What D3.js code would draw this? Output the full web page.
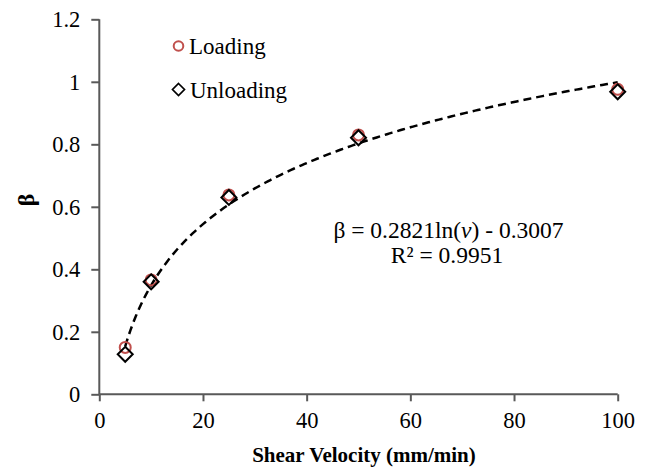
<!DOCTYPE html>
<html>
<head>
<meta charset="utf-8">
<script src="https://cdn.jsdelivr.net/npm/d3@7"></script>
<style>
  body { margin: 0; background: #fff; }
</style>
</head>
<body>
<svg id="chart" width="650" height="467"></svg>
<script>
// data
var velocity = [5, 10, 25, 50, 100]
var loading = [0.150, 0.366, 0.638, 0.830, 0.976]
var unloading = [0.128, 0.360, 0.630, 0.821, 0.968]
var xTicks = [0, 20, 40, 60, 80, 100]
var yTicks = [0, 0.2, 0.4, 0.6, 0.8, 1, 1.2]
var fitA = 0.2821, fitB = -0.3007

var serif = "'Liberation Serif', 'Times New Roman', 'DejaVu Serif', serif"

var svg = d3.select("#chart")
var margin = {top: 19.3, bottom: 72.7, left: 99.3, right: 32.3}
var width = 650 - margin.left - margin.right
var height = 467 - margin.top - margin.bottom

var xScale = d3.scaleLinear().domain([0, 100]).range([margin.left, margin.left + width])
var yScale = d3.scaleLinear().domain([0, 1.2]).range([margin.top + height, margin.top])

var axisColor = "#595959"

// y axis
var yAxis = svg.append("g")
  .attr("transform", "translate(" + margin.left + ",0)")
  .call(d3.axisLeft(yScale).tickValues(yTicks).tickSize(8).tickPadding(11)
    .tickFormat(function(d) { return String(+d.toFixed(1)) }))
yAxis.attr("font-family", serif).attr("font-size", 22.5)
yAxis.selectAll("text").attr("fill", "#000")

// x axis
var xAxis = svg.append("g")
  .attr("transform", "translate(0," + (margin.top + height) + ")")
  .call(d3.axisBottom(xScale).tickValues(xTicks).tickSize(7).tickPadding(11))
xAxis.attr("font-family", serif).attr("font-size", 22.5)
xAxis.selectAll("text").attr("fill", "#000")

svg.selectAll(".tick line").attr("stroke", axisColor).attr("stroke-width", 2)
// plain axis lines without the outer caps
yAxis.select(".domain").attr("stroke", axisColor).attr("stroke-width", 2)
  .attr("d", "M0," + yScale(1.2) + "V" + yScale(0))
xAxis.select(".domain").attr("stroke", axisColor).attr("stroke-width", 2)
  .attr("d", "M" + xScale(0) + ",0H" + xScale(100))

// trend line
var curve = d3.range(5, 100.01, 0.5).map(function(v) { return [v, fitA * Math.log(v) + fitB] })
var line = d3.line().x(function(d) { return xScale(d[0]) }).y(function(d) { return yScale(d[1]) })
svg.append("path").datum(curve)
  .attr("d", line)
  .attr("fill", "none")
  .attr("stroke", "#000")
  .attr("stroke-width", 2.5)
  .attr("stroke-dasharray", "8,5")

// loading circles
svg.append("g").selectAll("circle").data(velocity).enter()
  .append("circle")
  .attr("cx", function(d) { return xScale(d) })
  .attr("cy", function(d, i) { return yScale(loading[i]) })
  .attr("r", 5.5)
  .attr("fill", "none")
  .attr("stroke", "#c0504d")
  .attr("stroke-width", 2)

// unloading diamonds
var diamond = function(cx, cy, s) {
  return "M" + cx + "," + (cy - s) + "L" + (cx + s) + "," + cy + "L" + cx + "," + (cy + s) + "L" + (cx - s) + "," + cy + "Z"
}
svg.append("g").selectAll("path").data(velocity).enter()
  .append("path")
  .attr("d", function(d, i) { return diamond(xScale(d), yScale(unloading[i]), 7.5) })
  .attr("fill", "none")
  .attr("stroke", "#000")
  .attr("stroke-width", 2)

// legend
var legend = svg.append("g").attr("font-family", serif).attr("font-size", 23)
legend.append("circle").attr("cx", 178.5).attr("cy", 46).attr("r", 4.8)
  .attr("fill", "none").attr("stroke", "#c0504d").attr("stroke-width", 2)
legend.append("text").attr("x", 189).attr("y", 53.5).text("Loading")
legend.append("path").attr("d", diamond(178.5, 89.5, 6))
  .attr("fill", "none").attr("stroke", "#000").attr("stroke-width", 1.7)
legend.append("text").attr("x", 190).attr("y", 98).text("Unloading")

// equation
var eq = svg.append("text").attr("x", 448.5).attr("y", 238)
  .attr("font-family", serif).attr("font-size", 23.5).attr("text-anchor", "middle")
eq.append("tspan").text("β = 0.2821ln(")
eq.append("tspan").attr("font-style", "italic").text("v")
eq.append("tspan").text(") - 0.3007")
svg.append("text").attr("x", 447).attr("y", 263)
  .attr("font-family", serif).attr("font-size", 23.5).attr("text-anchor", "middle")
  .text("R² = 0.9951")

// axis titles
svg.append("text").attr("x", 364).attr("y", 462)
  .attr("font-family", serif).attr("font-size", 21).attr("font-weight", "bold")
  .attr("text-anchor", "middle").text("Shear Velocity (mm/min)")
svg.append("text").attr("transform", "translate(34,200) rotate(-90)")
  .attr("font-family", serif).attr("font-size", 24).attr("font-weight", "bold")
  .attr("text-anchor", "middle").text("β")
</script>
</body>
</html>
